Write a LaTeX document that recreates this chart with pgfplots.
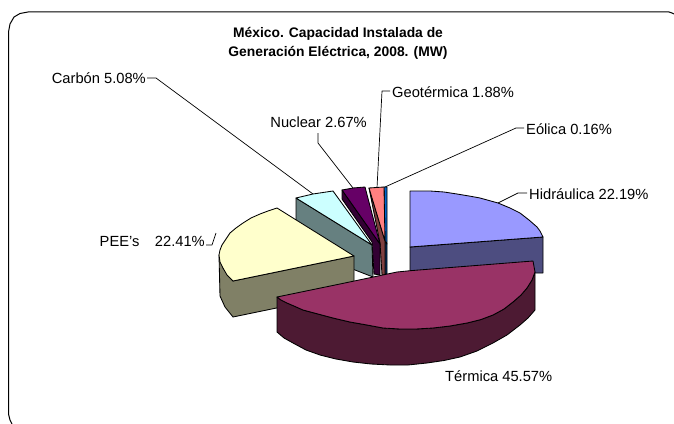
\documentclass[border=0pt]{standalone}
\usepackage{pgfplots}
\pgfplotsset{compat=1.18}
\usepackage{fontspec}
\setmainfont{Liberation Sans}
\definecolor{hidt}{HTML}{9999FF}\definecolor{hids}{HTML}{4D4D80}
\definecolor{tert}{HTML}{993366}\definecolor{ters}{HTML}{4D1A33}
\definecolor{peet}{HTML}{FFFFCC}\definecolor{pees}{HTML}{808066}
\definecolor{cart}{HTML}{CCFFFF}\definecolor{cars}{HTML}{668080}
\definecolor{nuct}{HTML}{660066}\definecolor{nucs}{HTML}{330033}
\definecolor{geot}{HTML}{FF8080}\definecolor{geos}{HTML}{804040}
\definecolor{eolt}{HTML}{0066CC}\definecolor{eols}{HTML}{003366}
\tikzset{lbl/.style={font=\fontsize{14.7bp}{17bp}\selectfont,inner sep=0pt},
 ttl/.style={font=\bfseries\fontsize{13.85bp}{18.6bp}\selectfont,inner sep=0pt,align=center}}
\begin{document}
\begin{tikzpicture}
\begin{axis}[at={(0,0)},anchor=south west,width=674bp,height=424bp,scale only axis,
 xmin=0,xmax=674,ymin=0,ymax=424,y dir=reverse,axis lines=none,clip=true,
 every axis plot/.append style={draw=black,line width=0.85bp,line join=round,no marks}]
% frame
\addplot[line width=1bp] coordinates {(12,424)(10,420)(8.5,414)(8.5,32)(10,24)(14,17)(20,13.5)(28,12)(669,12)(672,13)(674,14)};
% leader lines
\addplot[line width=0.7bp] coordinates {(147,78)(156,78)(313,194)};
\addplot[line width=0.7bp] coordinates {(318,133)(318,143)(353,188)};
\addplot[line width=0.7bp] coordinates {(390,91)(382,91)(377,188)};
\addplot[line width=0.7bp] coordinates {(524,128)(516,128)(385,187)};
\addplot[line width=0.7bp] coordinates {(527,193)(518,193)(498,203)};
\addplot[line width=0.7bp] coordinates {(206,245)(212,245)(216,233)};
% Hidraulica
\addplot[fill=hids] coordinates {(410,247)(543,237)(543,273)(410,273)} --cycle;
\addplot[fill=hidt] coordinates {(410,191)(430,191)(444,192)(457,194)(469,196)(480,198)(498,203)(510,208)(520,213)(529,220)(537,227)(540,231)(543,237)(410,247)} --cycle;
% Eolica
\addplot[fill=eols] coordinates {(385,241)(387,244)(387,274)(385,274)} --cycle;
\addplot[fill=eolt] coordinates {(384,187)(387,187)(387,244)(385,241)} --cycle;
% Geotermica
\addplot[fill=geos] coordinates {(369,188)(380,243)(382,275)(385,275)(385,241)} --cycle;
\addplot[fill=geot] coordinates {(369,188)(384,187)(385,241)} --cycle;
% Nuclear
\addplot[fill=nucs] coordinates {(342,190)(342,199)(372,242)(374,274)(380,275)(380,244)} --cycle;
\addplot[fill=nuct] coordinates {(342,190)(353,188)(365,187)(380,244)} --cycle;
% Carbon
\addplot[fill=cars] coordinates {(296,198)(372,245)(373,277)(355,270)(296,247)} --cycle;
\addplot[fill=cart] coordinates {(296,198)(313,194)(333,191)(372,245)} --cycle;
% PEE
\addplot[fill=pees] coordinates {(219,255)(223,268)(233,281)(354,256)(354,292)(233,317)(225,307)(220,296)} --cycle;
\addplot[fill=peet] coordinates {(277,208)(268,211)(260,214)(251,218)(243,223)(236,228)(230,233)(226,239)(222,245)(220,250)(219,255)(220,262)(223,268)(227,275)(233,281)(354,256)} --cycle;
% Termica
\addplot[fill=ters] coordinates {(277,297)(281,300)(287,303)(294,306)(303,310)(318,314)(333,318)(350,322)(367,325)(383,328)(400,329)(416,329)(433,328)(450,326)(467,323)(481,319.5)(493,315)(504,309)(513,302)(521,295)(527,288)(532,280)(535,272)(535,310)(528,318)(520,325)(507,335)(493,343)(477,351)(460,357)(444,360.5)(427,363)(408,365)(390,365)(371,364)(353,362)(336,359)(320,355)(306,350)(293,343)(284,338)(277,332)} --cycle;
\addplot[fill=tert] coordinates {(277,297)(340,284)(397,272)(410,270.7)(533,261)(535,272)(532,280)(527,288)(521,295)(513,302)(504,309)(493,315)(481,319.5)(467,323)(450,326)(433,328)(416,329)(400,329)(383,328)(367,325)(350,322)(333,318)(318,314)(303,310)(294,306)(287,303)(281,300)} --cycle;
% text
\node[ttl,anchor=center] at (axis cs:338,43.5) {México. Capacidad Instalada de\\Generación Eléctrica, 2008. (MW)};
\node[lbl,anchor=east] at (axis cs:146,78) {Carbón 5.08\%};
\node[lbl,anchor=east] at (axis cs:367,122) {Nuclear 2.67\%};
\node[lbl,anchor=west] at (axis cs:392,92) {Geotérmica 1.88\%};
\node[lbl,anchor=west] at (axis cs:526,129) {Eólica 0.16\%};
\node[lbl,anchor=west] at (axis cs:529,194) {Hidráulica 22.19\%};
\node[lbl,anchor=east] at (axis cs:205,241) {PEE's\hspace{1.05em}22.41\%};
\node[lbl,anchor=west] at (axis cs:445,376) {Térmica 45.57\%};
\end{axis}
\pgfresetboundingbox
\path[use as bounding box] (0,0) rectangle (674bp,424bp);
\end{tikzpicture}
\end{document}
